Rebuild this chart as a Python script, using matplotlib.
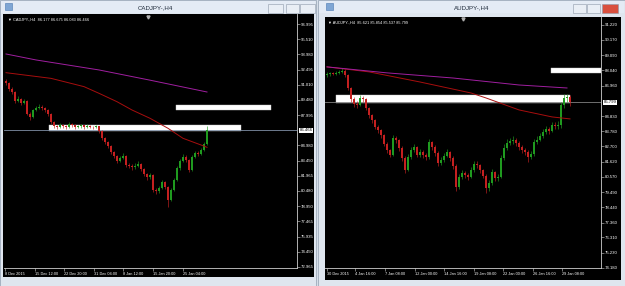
import numpy as np
import matplotlib.pyplot as plt
from matplotlib.patches import Rectangle

plt.rcParams['font.family'] = ['Liberation Sans', 'DejaVu Sans']

# ---------------- data ----------------
# CADJPY H4 (one candle ~ several real bars)
cad_open0 = 91.40
cad_close = [91.16, 90.57, 90.27, 89.38, 89.58, 89.18, 89.38, 88.09, 87.80, 88.49,
             88.69, 88.79, 88.69, 88.49, 88.09, 87.30, 86.91, 86.81, 87.01, 86.91,
             86.81, 87.11, 87.01, 86.81, 86.91, 86.98, 86.81, 86.91, 86.85, 86.81,
             86.88, 86.41, 85.72, 85.33, 84.93, 84.34, 83.94, 83.45, 83.74, 83.94,
             83.05, 82.95, 82.85, 82.95, 83.15, 82.66, 82.16, 81.86, 82.06, 80.58,
             80.45, 80.78, 81.37, 80.87, 79.59, 80.58, 81.57, 82.75, 83.45, 83.84,
             83.54, 82.56, 83.84, 84.24, 84.10, 84.53, 85.13, 86.47]
cad_high = [91.55, 91.30, 90.75, 90.40, 89.85, 89.70, 89.60, 89.45, 88.25, 88.60,
            88.90, 89.05, 88.95, 88.80, 88.60, 88.15, 87.40, 87.05, 87.20, 87.15,
            87.00, 87.30, 87.25, 87.10, 87.05, 87.10, 87.05, 87.10, 87.00, 86.95,
            87.02, 86.95, 86.50, 85.85, 85.45, 85.05, 84.45, 84.05, 83.95, 84.20,
            84.05, 83.25, 83.10, 83.20, 83.40, 83.25, 82.80, 82.30, 82.30, 82.15,
            80.80, 81.00, 81.60, 81.50, 80.95, 80.75, 81.75, 82.95, 83.65, 84.10,
            84.00, 83.65, 84.00, 84.45, 84.40, 84.75, 85.35, 86.90]
cad_low = [91.00, 90.40, 90.05, 89.20, 89.25, 89.00, 89.05, 87.95, 87.55, 87.70,
           88.35, 88.55, 88.50, 88.30, 87.90, 87.15, 86.70, 86.60, 86.70, 86.75,
           86.65, 86.75, 86.85, 86.65, 86.70, 86.75, 86.65, 86.72, 86.70, 86.62,
           86.70, 86.25, 85.55, 85.15, 84.75, 84.15, 83.75, 83.25, 83.30, 83.60,
           82.85, 82.75, 82.60, 82.70, 82.85, 82.45, 81.95, 81.60, 81.70, 80.35,
           80.20, 80.30, 80.65, 80.65, 78.90, 79.45, 80.45, 81.45, 82.60, 83.30,
           83.30, 82.35, 82.45, 83.70, 83.90, 84.00, 84.40, 85.00]
cad_ma_fast_x = [0, 15, 26, 31, 37, 42, 48, 54, 59, 65, 67]
cad_ma_fast = [92.18, 91.62, 90.80, 90.14, 89.31, 88.49, 87.67, 86.68, 85.69, 85.03, 84.80]
cad_ma_slow_x = [0, 10, 31, 48, 67]
cad_ma_slow = [94.03, 93.44, 92.45, 91.44, 90.27]
cad_zones = [(14.3, 78.3, 86.41, 87.01), (56.7, 88.3, 88.49, 88.98)]
cad_price = 86.466
cad_yticks = [96.995, 95.510, 93.980, 92.495, 91.010, 89.480, 87.995, 84.980,
              83.450, 81.965, 80.480, 78.950, 77.465, 75.935, 74.450, 72.965]
cad_xticks = [-0.33, 9.67, 19.33, 29.33, 39, 49, 59]
cad_xlabels = ['8 Dec 2015', '15 Dec 12:00', '22 Dec 20:00', '31 Dec 04:00',
               '8 Jan 12:00', '15 Jan 20:00', '25 Jan 04:00']

# AUDJPY H4
aud_open0 = 87.70
aud_close = [87.75, 87.82, 87.79, 87.86, 87.93, 87.99, 87.72, 86.80, 86.03, 85.68,
             85.60, 86.10, 86.03, 85.40, 84.91, 84.56, 84.07, 83.86, 83.51, 82.88,
             82.46, 82.11, 83.30, 83.16, 82.60, 81.90, 81.06, 81.97, 82.46, 82.67,
             82.11, 82.32, 82.11, 81.97, 83.02, 82.67, 82.25, 81.55, 81.76, 82.04,
             82.32, 81.90, 81.34, 79.86, 80.56, 80.85, 80.71, 80.56, 81.06, 81.48,
             81.41, 81.06, 80.63, 79.79, 80.14, 80.92, 80.49, 80.56, 81.90, 82.60,
             82.95, 83.09, 83.16, 82.95, 82.67, 82.46, 82.32, 81.97, 82.18, 83.02,
             83.16, 83.44, 83.72, 83.93, 83.79, 84.21, 84.14, 84.21, 85.61, 86.10,
             86.17, 85.80]
aud_high = [87.90, 87.95, 87.92, 88.00, 88.05, 88.20, 88.10, 87.80, 86.90, 86.15,
            85.90, 86.30, 86.25, 86.10, 85.50, 85.00, 84.65, 84.20, 83.95, 83.60,
            83.00, 82.55, 83.50, 83.45, 83.25, 82.70, 82.00, 82.15, 82.65, 82.90,
            82.75, 82.50, 82.45, 82.25, 83.25, 83.10, 82.80, 82.35, 81.95, 82.25,
            82.55, 82.40, 82.00, 81.45, 80.75, 81.05, 81.00, 80.85, 81.25, 81.70,
            81.65, 81.50, 81.15, 80.75, 80.35, 81.10, 81.00, 80.80, 82.10, 82.85,
            83.20, 83.30, 83.40, 83.30, 83.05, 82.80, 82.60, 82.45, 82.40, 83.20,
            83.40, 83.65, 83.95, 84.15, 84.05, 84.40, 84.40, 84.45, 85.80, 86.35,
            86.40, 86.30]
aud_low = [87.60, 87.65, 87.68, 87.72, 87.78, 87.85, 87.60, 86.65, 85.85, 85.50,
           85.40, 85.55, 85.85, 85.25, 84.70, 84.35, 83.90, 83.65, 83.30, 82.70,
           82.25, 81.95, 82.00, 82.95, 82.40, 81.70, 80.85, 80.95, 81.85, 82.30,
           81.95, 81.95, 81.90, 81.75, 81.85, 82.45, 82.05, 81.35, 81.40, 81.60,
           81.95, 81.70, 81.15, 79.60, 79.70, 80.40, 80.50, 80.35, 80.45, 80.90,
           81.20, 80.85, 80.45, 79.45, 79.60, 80.00, 80.30, 80.30, 80.45, 81.75,
           82.45, 82.80, 82.90, 82.75, 82.45, 82.25, 82.10, 81.60, 81.80, 82.05,
           82.90, 83.05, 83.30, 83.60, 83.55, 83.70, 83.95, 83.90, 84.00, 85.40,
           85.85, 85.55]
aud_ma_fast_x = [0, 14, 31, 48, 53, 64, 75, 81]
aud_ma_fast = [88.28, 87.93, 87.22, 86.45, 86.10, 85.26, 84.77, 84.63]
aud_ma_slow_x = [0, 20, 42, 64, 80]
aud_ma_slow = [88.28, 87.86, 87.50, 87.01, 86.80]
aud_zones = [(3.0, 81.0, 85.76, 86.31), (74.7, 91.4, 87.86, 88.21)]
aud_price = 85.799
aud_yticks = [91.220, 90.170, 89.090, 88.040, 86.960, 84.830, 83.780, 82.700,
              81.620, 80.570, 79.490, 78.440, 77.360, 76.310, 75.230, 74.180]
aud_xticks = [0, 9.33, 19.33, 29.33, 39, 49, 58.67, 68.67, 78.33]
aud_xlabels = ['30 Dec 2015', '4 Jan 16:00', '7 Jan 08:00', '12 Jan 00:00',
               '14 Jan 16:00', '19 Jan 08:00', '22 Jan 00:00', '26 Jan 16:00',
               '29 Jan 08:00']

BULL = '#1f9a1f'
BEAR = '#c42020'
W, H = 625, 286


def box(x0, y0, x1, y1):
    return [x0 / W, 1 - y1 / H, (x1 - x0) / W, (y1 - y0) / H]


fig = plt.figure(figsize=(W / 100, H / 100), dpi=100, facecolor='#d6dee8')

# window chrome, in pixel units
bg = fig.add_axes([0, 0, 1, 1])
bg.set_xlim(0, W)
bg.set_ylim(H, 0)
bg.axis('off')
for x0, x1 in [(0, 316), (318, 625)]:
    bg.add_patch(Rectangle((x0, 0), x1 - x0, H, fc='#dfe6ef', ec='#9eabbb', lw=0.6))
    bg.add_patch(Rectangle((x0 + 1, 1), x1 - x0 - 2, 12, fc='#e4ebf5', lw=0))
bg.add_patch(Rectangle((3, 14), 311, 263, fc='black', lw=0))
bg.add_patch(Rectangle((325, 17), 296, 263, fc='black', lw=0))
bg.text(155, 7.5, 'CADJPY-,H4', ha='center', va='center', fontsize=4.4, color='#1e2a3a')
bg.text(472, 7.5, 'AUDJPY-,H4', ha='center', va='center', fontsize=4.4, color='#1e2a3a')
for ix in [5, 326]:
    bg.add_patch(Rectangle((ix, 3), 7, 7, fc='#7fa6d4', ec='#4a78b0', lw=0.4))
for bx0, bx1, col in [(268, 283, '#e9eef5'), (286, 299, '#e9eef5'), (300, 315, '#e9eef5'),
                      (573, 586, '#e9eef5'), (587, 600, '#e9eef5'), (602, 618, '#d9503f')]:
    bg.add_patch(Rectangle((bx0, 4), bx1 - bx0, 9, fc=col, ec='#8d99a8', lw=0.4))
bg.plot([148, 463], [17, 19], 'v', color='#b0b0b0', ms=2.2)


def chart(pos, open0, close, high, low, fx, fast, sx, slow, zones, price,
          pcolor, yticks, xticks, xlabels, xlim, ylim, header):
    ax = fig.add_axes(pos)
    ax.set_facecolor('none')
    close = np.array(close)
    opens = np.concatenate([[open0], close[:-1]])
    idx = np.arange(len(close))
    cols = np.where(close >= opens, BULL, BEAR)
    for x0, x1, lo, hi in zones:
        ax.add_patch(Rectangle((x0, lo), x1 - x0, hi - lo, fc='white',
                               ec='#c8c8c8', lw=0.3, zorder=1))
    ax.axhline(price, color=pcolor, lw=0.6, zorder=1.5)
    ax.vlines(idx, low, high, colors=cols, lw=0.45, zorder=2)
    ax.bar(idx, close - opens, bottom=opens, width=0.75, color=cols, lw=0, zorder=2)
    ax.plot(fx, fast, color='#a80e0e', lw=0.7, zorder=3)
    ax.plot(sx, slow, color='#a01fa0', lw=0.7, zorder=3)
    ax.set_xlim(*xlim)
    ax.set_ylim(*ylim)
    for s in ['top', 'left']:
        ax.spines[s].set_visible(False)
    for s in ['bottom', 'right']:
        ax.spines[s].set_color('#d0d0d0')
        ax.spines[s].set_linewidth(0.6)
    ax.yaxis.tick_right()
    ax.set_yticks(yticks)
    ax.set_yticklabels(['%.3f' % v for v in yticks])
    ax.set_xticks(xticks)
    ax.set_xticklabels(xlabels)
    for t in ax.get_xticklabels():
        t.set_horizontalalignment('left')
    ax.tick_params(colors='#d0d0d0', labelcolor='white', width=0.4, length=2,
                   labelsize=3.1, pad=1)
    ax.tick_params(axis='x', labelsize=2.8)
    ax.text(1.01, price, '%.3f' % price, transform=ax.get_yaxis_transform(),
            ha='left', va='center', fontsize=3.1, color='black',
            bbox=dict(fc='white', ec='none', pad=0.4))
    ax.text(0.012, 0.985, '\u25bc ' + header, transform=ax.transAxes, ha='left',
            va='top', fontsize=2.8, color='white')
    return ax


chart(box(4, 14, 297, 268), cad_open0, cad_close, cad_high, cad_low,
      cad_ma_fast_x, cad_ma_fast, cad_ma_slow_x, cad_ma_slow, cad_zones,
      cad_price, '#7f8fa6', cad_yticks, cad_xticks, cad_xlabels,
      (-0.667, 97), (72.864, 97.984),
      'CADJPY-,H4  86.177 86.675 86.083 86.466')
chart(box(325, 17, 601, 268), aud_open0, aud_close, aud_high, aud_low,
      aud_ma_fast_x, aud_ma_fast, aud_ma_slow_x, aud_ma_slow, aud_zones,
      aud_price, '#808080', aud_yticks, aud_xticks, aud_xlabels,
      (-0.667, 91.33), (74.17, 91.78),
      'AUDJPY-,H4  85.621 85.854 85.537 85.799')

fig.savefig('out.png', dpi=100, facecolor=fig.get_facecolor())
